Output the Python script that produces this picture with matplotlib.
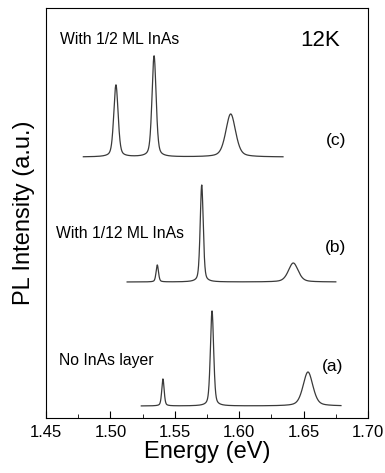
import numpy as np
import matplotlib.pyplot as plt
from matplotlib.ticker import MultipleLocator

plt.rcParams['font.family'] = ['Liberation Sans', 'DejaVu Sans']

# spectra: range, baseline offset, peaks (center eV, height, FWHM eV)
labels = ['No InAs layer', 'With 1/12 ML InAs', 'With 1/2 ML InAs']
tags = ['(a)', '(b)', '(c)']
x_start = [1.524, 1.513, 1.479]
x_end = [1.679, 1.675, 1.634]
offsets = [12, 136, 261]
centers = [[1.5408, 1.5789, 1.6534],
           [1.5364, 1.5709, 1.6420],
           [1.5043, 1.5339, 1.5934]]
heights = [[27, 95, 34],
           [17, 97, 19],
           [72, 101, 43]]
fwhms = [[0.0022, 0.0030, 0.0090],
         [0.0022, 0.0028, 0.0090],
         [0.0040, 0.0038, 0.0090]]


def peak(x, c, h, w, eta=0.4):
    # pseudo-voigt line shape
    g = np.exp(-4 * np.log(2) * (x - c) ** 2 / w ** 2)
    l = 1 / (1 + 4 * (x - c) ** 2 / w ** 2)
    return h * (eta * l + (1 - eta) * g)


fig = plt.figure(figsize=(3.85, 4.73), dpi=100)
ax = fig.add_axes([46 / 385, 55 / 473, 322 / 385, 410 / 473])

for i in range(3):
    x = np.linspace(x_start[i], x_end[i], 1500)
    y = np.full_like(x, offsets[i], dtype=float)
    for c, h, w in zip(centers[i], heights[i], fwhms[i]):
        y += peak(x, c, h, w)
    ax.plot(x, y, color='#3a3a3a', lw=0.9)

ax.set_xlim(1.45, 1.70)
ax.set_ylim(0, 410)
ax.xaxis.set_major_locator(MultipleLocator(0.05))
ax.xaxis.set_minor_locator(MultipleLocator(0.025))
ax.xaxis.set_major_formatter(plt.FormatStrFormatter('%.2f'))
ax.tick_params(axis='x', which='major', direction='in', length=5, labelsize=12, pad=5)
ax.tick_params(axis='x', which='minor', direction='in', length=3)
ax.set_yticks([])
ax.set_xlabel('Energy (eV)', fontsize=17, labelpad=1)
ax.set_ylabel('PL Intensity (a.u.)', fontsize=17, labelpad=8)

ax.text(1.4601, 57, labels[0], fontsize=11.3, va='center')
ax.text(1.4578, 185, labels[1], fontsize=11.3, va='center')
ax.text(1.4609, 378, labels[2], fontsize=11.3, va='center')
ax.text(1.6643, 52, tags[0], fontsize=12.5, va='center')
ax.text(1.6666, 171, tags[1], fontsize=12.5, va='center')
ax.text(1.6674, 278, tags[2], fontsize=12.5, va='center')
ax.text(1.6472, 378, '12K', fontsize=16, va='center')

fig.savefig('out.png', dpi=100)
